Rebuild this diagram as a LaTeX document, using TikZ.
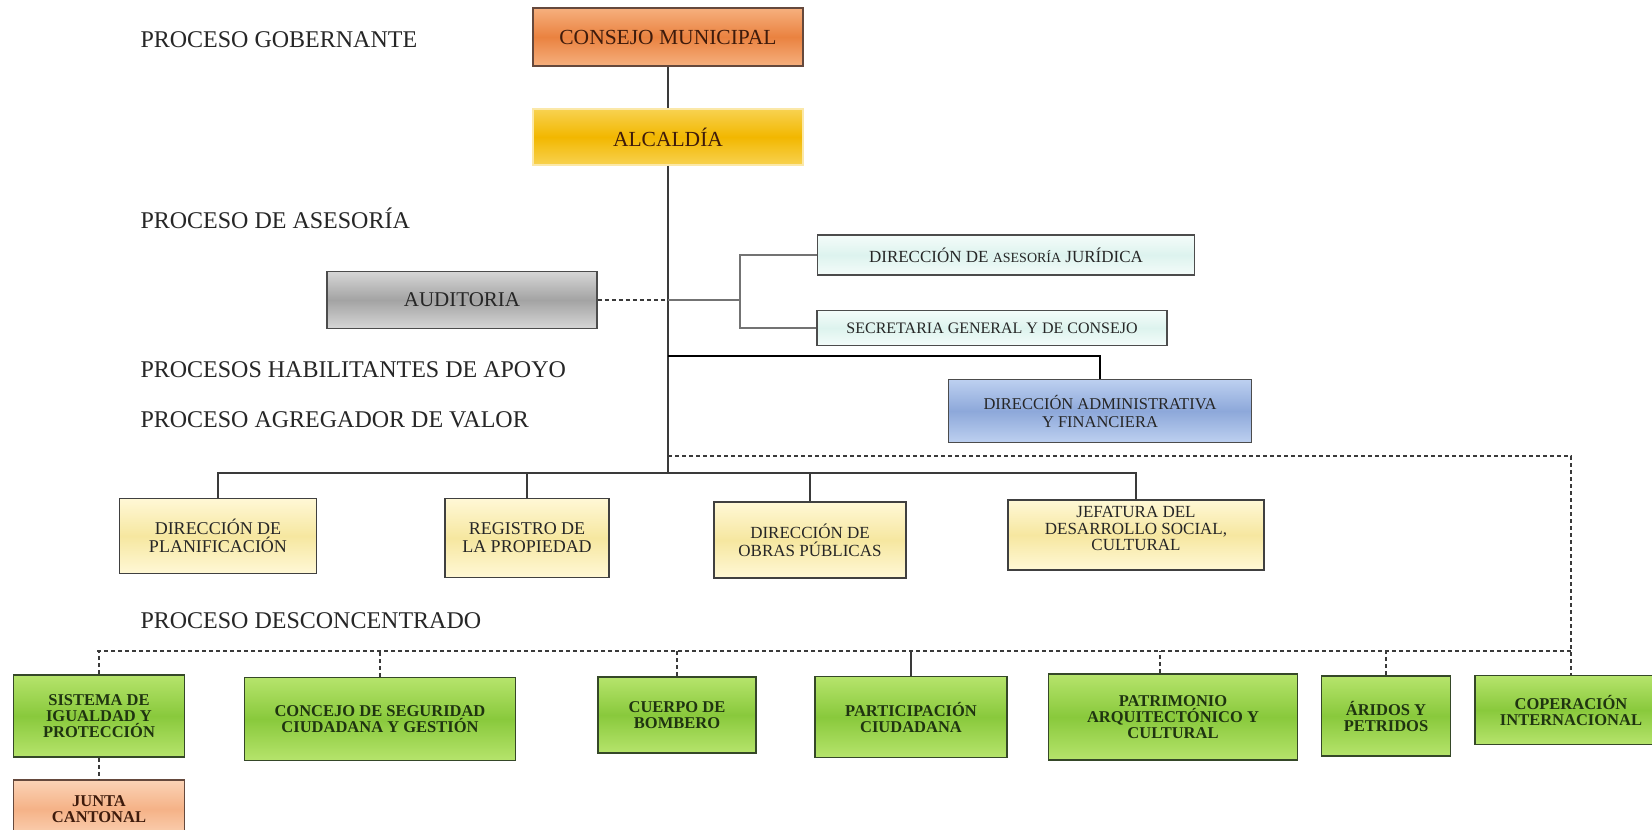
\documentclass[tikz,border=0pt]{standalone}
\usepackage{fontspec}
\setmainfont{Liberation Serif}
\definecolor{naranja}{HTML}{EA8240}
\definecolor{naranjaclaro}{HTML}{F6B07E}
\definecolor{oro}{HTML}{F2B700}
\definecolor{oroclaro}{HTML}{F8D250}
\definecolor{gris}{HTML}{A3A3A3}
\definecolor{grisclaro}{HTML}{D6D6D6}
\definecolor{celeste}{HTML}{DDF3EE}
\definecolor{celesteclaro}{HTML}{F4FCFA}
\definecolor{azul}{HTML}{8DA8DA}
\definecolor{azulclaro}{HTML}{BDD0F0}
\definecolor{amarillo}{HTML}{F6E7A0}
\definecolor{amarilloclaro}{HTML}{FFF8D6}
\definecolor{verde}{HTML}{89C93C}
\definecolor{verdeclaro}{HTML}{B6E46C}
\definecolor{salmon}{HTML}{F5B287}
\definecolor{salmonclaro}{HTML}{FBD3B6}
\definecolor{cafe}{HTML}{3E1B0C}
\definecolor{verdeosc}{HTML}{1F3410}
\definecolor{linea}{HTML}{3A3A3A}
\begin{document}
\begin{tikzpicture}[x=1pt,y=-1pt,
    caja/.style={draw=#1,line width=1.8pt,align=center,inner sep=0pt},
    proc/.style={anchor=west,text=black!85,font=\fontsize{24}{27}\selectfont},
    conector/.style={draw=linea,line width=1.1pt},
    punteado/.style={draw=linea,line width=1.1pt,dash pattern=on 4pt off 3pt}]

    \path[use as bounding box,clip] (0,0) rectangle (1652,830);
    \fill[white] (0,0) rectangle (1652,830);

    % etiquetas de proceso
    \node[proc] (PG) at (137,40) {PROCESO GOBERNANTE};
    \node[proc] (PA) at (137,218) {PROCESO DE ASESORÍA};
    \node[proc] (PH) at (137,370) {PROCESOS HABILITANTES DE APOYO};
    \node[proc] (PV) at (137,420) {PROCESO AGREGADOR DE VALOR};
    \node[proc] (PD) at (137,621) {PROCESO DESCONCENTRADO};

    % nivel gobernante
    \node[caja=cafe!80,top color=naranjaclaro,bottom color=naranjaclaro,middle color=naranja,
        minimum width=270,minimum height=58,text=cafe,font=\fontsize{21.5}{24}\selectfont] (CM) at (668,37) {CONSEJO MUNICIPAL};
    \node[caja=oroclaro!50!white,top color=oroclaro,bottom color=oroclaro,middle color=oro,
        minimum width=270,minimum height=56,text=cafe,font=\fontsize{21.5}{24}\selectfont] (ALC) at (668,137) {ALCALDÍA};

    % asesoria
    \node[caja=black!70,top color=grisclaro,bottom color=grisclaro,middle color=gris,
        minimum width=270,minimum height=57,text=black!85,font=\fontsize{21}{24}\selectfont] (AUD) at (462,300) {AUDITORIA};
    \node[caja=black!70,top color=celesteclaro,bottom color=celesteclaro,middle color=celeste,
        minimum width=377,minimum height=40,text=black!85,font=\fontsize{17}{19}\selectfont] (DAJ) at (1006,255)
        {DIRECCIÓN DE {\fontsize{14}{16}\selectfont ASESORÍA} JURÍDICA};
    \node[caja=black!70,top color=celesteclaro,bottom color=celesteclaro,middle color=celeste,
        minimum width=350,minimum height=35,text=black!85,font=\fontsize{16}{18}\selectfont] (SGC) at (992,328)
        {SECRETARIA GENERAL Y DE CONSEJO};
    \node[caja=black!70,top color=azulclaro,bottom color=azulclaro,middle color=azul,
        minimum width=303,minimum height=63,text=black!85,font=\fontsize{16.5}{18}\selectfont] (DAF) at (1100,411)
        {DIRECCIÓN ADMINISTRATIVA\\Y FINANCIERA};

    % agregador de valor
    \node[caja=black!75,top color=amarilloclaro,bottom color=amarilloclaro,middle color=amarillo,
        minimum width=197,minimum height=75,text=black!85,font=\fontsize{18}{18}\selectfont] (DP) at (218,536)
        {DIRECCIÓN DE\\PLANIFICACIÓN};
    \node[caja=black!75,top color=amarilloclaro,bottom color=amarilloclaro,middle color=amarillo,
        minimum width=164,minimum height=79,text=black!85,font=\fontsize{18}{18}\selectfont] (RP) at (527,538)
        {REGISTRO DE\\LA PROPIEDAD};
    \node[caja=black!75,top color=amarilloclaro,bottom color=amarilloclaro,middle color=amarillo,
        minimum width=192,minimum height=76,text=black!85,font=\fontsize{17}{18}\selectfont] (DOP) at (810,540)
        {DIRECCIÓN DE\\OBRAS PÚBLICAS};
    \node[caja=black!75,top color=amarilloclaro,bottom color=amarilloclaro,middle color=amarillo,
        minimum width=256,minimum height=70,text=black!85,font=\fontsize{17}{16.5}\selectfont] (JDS) at (1136,535)
        {JEFATURA DEL\\DESARROLLO SOCIAL,\\CULTURAL\\[-4pt]};

    % desconcentrado
    \node[caja=verdeosc!90,top color=verdeclaro,bottom color=verdeclaro,middle color=verde,
        minimum width=171,minimum height=82,text=verdeosc,font=\bfseries\fontsize{16.5}{16}\selectfont] (SIP) at (99,716)
        {SISTEMA DE\\IGUALDAD Y\\PROTECCIÓN};
    \node[caja=verdeosc!90,top color=verdeclaro,bottom color=verdeclaro,middle color=verde,
        minimum width=271,minimum height=83,text=verdeosc,font=\bfseries\fontsize{16.5}{16}\selectfont] (CSC) at (380,719)
        {CONCEJO DE SEGURIDAD\\CIUDADANA Y GESTIÓN};
    \node[caja=verdeosc!90,top color=verdeclaro,bottom color=verdeclaro,middle color=verde,
        minimum width=158,minimum height=76,text=verdeosc,font=\bfseries\fontsize{16.5}{16}\selectfont] (CB) at (677,715)
        {CUERPO DE\\BOMBERO};
    \node[caja=verdeosc!90,top color=verdeclaro,bottom color=verdeclaro,middle color=verde,
        minimum width=192,minimum height=81,text=verdeosc,font=\bfseries\fontsize{16.5}{16}\selectfont] (PC) at (911,717)
        {PARTICIPACIÓN\\CIUDADANA};
    \node[caja=verdeosc!90,top color=verdeclaro,bottom color=verdeclaro,middle color=verde,
        minimum width=249,minimum height=86,text=verdeosc,font=\bfseries\fontsize{16.5}{16}\selectfont] (PAC) at (1173,717)
        {PATRIMONIO\\ARQUITECTÓNICO Y\\CULTURAL};
    \node[caja=verdeosc!90,top color=verdeclaro,bottom color=verdeclaro,middle color=verde,
        minimum width=129,minimum height=80,text=verdeosc,font=\bfseries\fontsize{16.5}{16}\selectfont] (AP) at (1386,716)
        {ÁRIDOS Y\\PETRIDOS};
    \node[caja=verdeosc!90,top color=verdeclaro,bottom color=verdeclaro,middle color=verde,
        minimum width=192,minimum height=69,text=verdeosc,font=\bfseries\fontsize{16.5}{16}\selectfont] (CI) at (1571,710)
        {COPERACIÓN\\INTERNACIONAL};
    \node[caja=cafe!80,top color=salmonclaro,bottom color=salmonclaro,middle color=salmon,
        minimum width=171,minimum height=58,text=cafe,font=\bfseries\fontsize{16.5}{16}\selectfont] (JC) at (99,809)
        {JUNTA\\CANTONAL};

    % puntos de union
    \coordinate (A1) at (668,300);
    \coordinate (B1) at (740,300);
    \coordinate (T1) at (668,356);
    \coordinate (D1) at (668,456);
    \coordinate (Y1) at (668,473);
    \coordinate (H1) at (97,651);

    \draw[conector] (CM) -- (ALC);
    \draw[conector] (ALC) -- (Y1);
    \draw[punteado] (AUD) -- (A1);
    \draw[conector,draw=black!55] (A1) -- (B1);
    \draw[conector,draw=black!55] (B1) |- (DAJ);
    \draw[conector,draw=black!55] (B1) |- (SGC);
    \draw[line width=2.4pt] (T1) -| (DAF);

    \draw[conector] (DP) |- (Y1) -| (JDS);
    \draw[conector] (RP) -- (RP |- Y1);
    \draw[conector] (DOP) -- (DOP |- Y1);

    \draw[punteado] (D1) -| (CI);
    \draw[punteado] (H1) -- (H1 -| CI);
    \draw[punteado] (SIP) -- (SIP |- H1);
    \draw[punteado] (CSC) -- (CSC |- H1);
    \draw[punteado] (CB) -- (CB |- H1);
    \draw[conector] (PC) -- (PC |- H1);
    \draw[punteado] ([xshift=-13pt]PAC.north) -- ([xshift=-13pt]PAC.north |- H1);
    \draw[punteado] (AP) -- (AP |- H1);
    \draw[punteado] (SIP) -- (JC);

\end{tikzpicture}
\end{document}
